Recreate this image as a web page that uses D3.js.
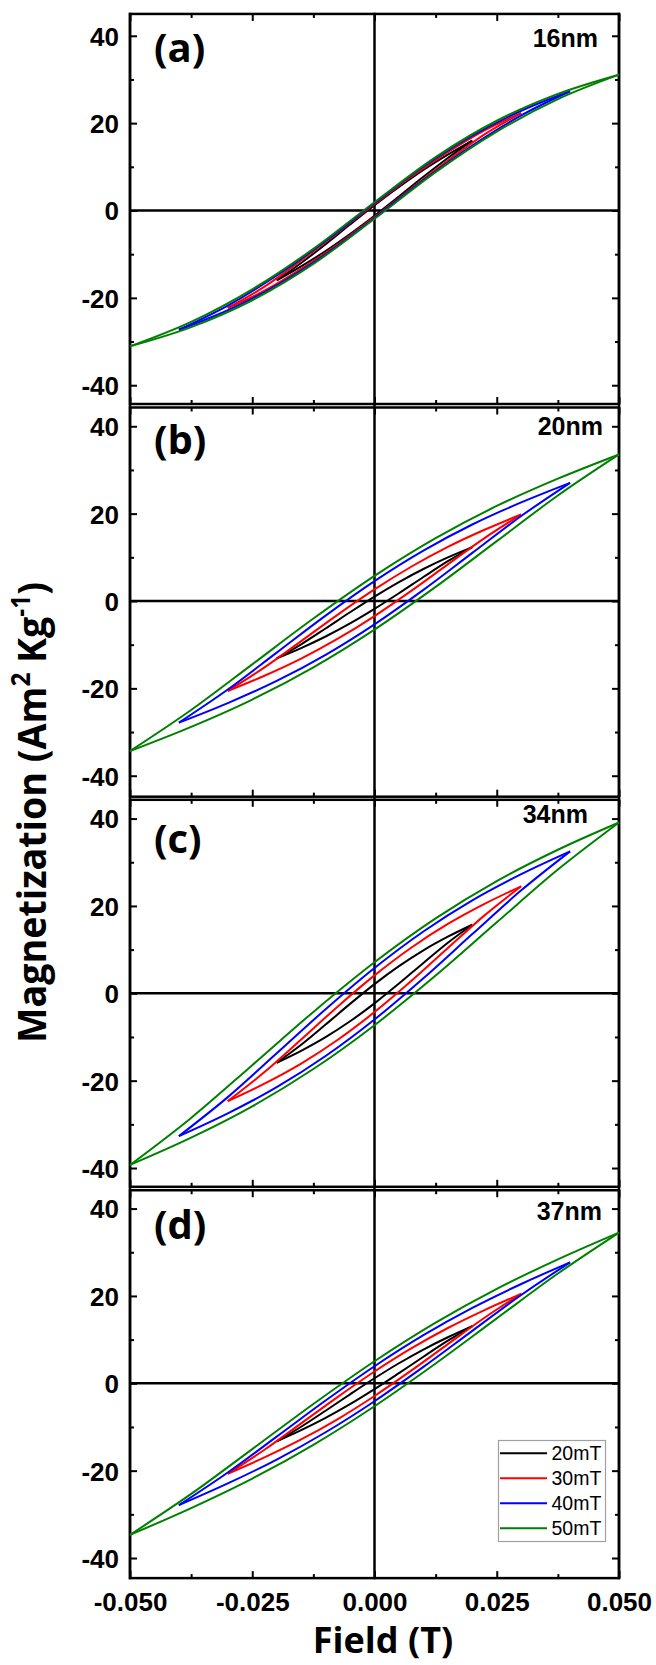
<!DOCTYPE html>
<html>
<head>
<meta charset="utf-8">
<script src="https://cdn.jsdelivr.net/npm/d3@7"></script>
<style>
  html, body { margin: 0; padding: 0; background: #fff; }
  svg { display: block; }
</style>
</head>
<body>
<script>
// ---------------- DATA ----------------
const loopNames = ["20mT", "30mT", "40mT", "50mT"];
const panelLetters = ["(a)", "(b)", "(c)", "(d)"];
const panelSizes = ["16nm", "20nm", "34nm", "37nm"];

const xTickValues = [-0.05, -0.025, 0, 0.025, 0.05];
const xTickLabels = ["-0.050", "-0.025", "0.000", "0.025", "0.050"];
const xMinorTicks = [-0.0375, -0.0125, 0.0125, 0.0375];
const yTickValues = [-40, -20, 0, 20, 40];
const yTickLabels = ["-40", "-20", "0", "20", "40"];
const yMinorTicks = [-30, -10, 10, 30];

// field values (T) for the points of each loop (20, 30, 40, 50 mT)
const field20 = [-0.02, -0.015, -0.01, -0.005, 0, 0.005, 0.01, 0.015, 0.02];
const field30 = [-0.03, -0.0225, -0.015, -0.0075, 0, 0.0075, 0.015, 0.0225, 0.03];
const field40 = [-0.04, -0.03, -0.02, -0.01, 0, 0.01, 0.02, 0.03, 0.04];
const field50 = [-0.05, -0.0375, -0.025, -0.0125, 0, 0.0125, 0.025, 0.0375, 0.05];

// (a) 16nm  — descending (upper) and ascending (lower) branches
const a16Upper = [
  [-16.0, -12.02, -7.71, -3.21, 1.2, 5.39, 9.29, 12.78, 16.0],
  [-22.3, -17.43, -11.42, -5.04, 1.5, 7.76, 13.38, 18.37, 22.3],
  [-27.3, -21.77, -14.89, -6.96, 1.7, 10.04, 17.12, 22.83, 27.3],
  [-31.1, -25.5, -18.05, -8.78, 1.9, 12.23, 20.55, 26.7, 31.1]];
const a16Lower = [
  [-16.0, -12.78, -9.29, -5.39, -1.2, 3.21, 7.71, 12.02, 16.0],
  [-22.3, -18.37, -13.38, -7.76, -1.5, 5.04, 11.42, 17.43, 22.3],
  [-27.3, -22.83, -17.12, -10.04, -1.7, 6.96, 14.89, 21.77, 27.3],
  [-31.1, -26.7, -20.55, -12.23, -1.9, 8.78, 18.05, 25.5, 31.1]];

// (b) 20nm
const b20Upper = [
  [-13.15, -9.91, -6.29, -2.58, 1.0, 4.33, 7.33, 9.99, 12.35],
  [-20.6, -15.2, -9.19, -3.11, 2.65, 7.84, 12.39, 16.31, 19.8],
  [-27.85, -20.26, -11.81, -3.34, 4.55, 11.53, 17.51, 22.57, 27.05],
  [-34.35, -24.95, -14.5, -4.02, 5.75, 14.38, 21.76, 28.01, 33.55]];
const b20Lower = [
  [-13.15, -10.79, -8.13, -5.13, -1.8, 1.78, 5.49, 9.11, 12.35],
  [-20.6, -17.11, -13.19, -8.64, -3.45, 2.31, 8.39, 14.4, 19.8],
  [-27.85, -23.37, -18.31, -12.33, -5.35, 2.54, 11.01, 19.46, 27.05],
  [-34.35, -28.81, -22.56, -15.18, -6.55, 3.22, 13.7, 24.15, 33.55]];

// (c) 34nm
const c34Upper = [
  [-15.9, -11.78, -7.15, -2.42, 2.1, 6.21, 9.84, 12.96, 15.7],
  [-24.7, -18.04, -10.57, -3.0, 4.1, 10.43, 15.88, 20.48, 24.5],
  [-32.7, -23.77, -13.75, -3.64, 5.8, 14.16, 21.29, 27.28, 32.5],
  [-39.3, -28.53, -16.45, -4.26, 7.1, 17.14, 25.69, 32.86, 39.1]];
const c34Lower = [
  [-15.9, -13.16, -10.04, -6.41, -2.3, 2.22, 6.95, 11.58, 15.7],
  [-24.7, -20.68, -16.08, -10.63, -4.3, 2.8, 10.37, 17.84, 24.5],
  [-32.7, -27.48, -21.49, -14.36, -6.0, 3.44, 13.55, 23.57, 32.5],
  [-39.3, -33.06, -25.89, -17.34, -7.3, 4.06, 16.25, 28.33, 39.1]];

// (d) 37nm
const d37Upper = [
  [-13.3, -9.95, -6.28, -2.52, 1.15, 4.59, 7.72, 10.54, 13.1],
  [-20.7, -15.21, -9.18, -3.1, 2.7, 7.98, 12.66, 16.77, 20.5],
  [-27.9, -20.42, -12.21, -3.95, 3.9, 11.01, 17.26, 22.73, 27.7],
  [-34.7, -25.33, -15.06, -4.73, 5.05, 13.88, 21.62, 28.37, 34.5]];
const d37Lower = [
  [-13.3, -10.74, -7.92, -4.79, -1.35, 2.32, 6.08, 9.75, 13.1],
  [-20.7, -16.97, -12.86, -8.18, -2.9, 2.9, 8.98, 15.01, 20.5],
  [-27.9, -22.93, -17.46, -11.21, -4.1, 3.75, 12.01, 20.22, 27.7],
  [-34.7, -28.57, -21.82, -14.08, -5.25, 4.53, 14.86, 25.13, 34.5]];

// ---------------- LAYOUT / STYLE ----------------
const W = 656, H = 1665;
const loopColors = ["#000000", "#ff0000", "#0000ff", "#008000"];
const fields = [field20, field30, field40, field50];
const panelsUpper = [a16Upper, b20Upper, c34Upper, d37Upper];
const panelsLower = [a16Lower, b20Lower, c34Lower, d37Lower];
const panelZeroY = [210.5, 601, 993.3, 1383.3];
const pxPerUnit = 4.368;
const panelDomains = [[-44.3, 45], [-44.8, 44.3], [-44.3, 44.3], [-44.6, 44.2]];
const sizeLabelPos = [[598, 47], [603, 435], [588, 823], [602, 1220]];
const letterBaseline = [62, 454, 853, 1239];

const tickFont = "'Liberation Sans', Arial, sans-serif";
const titleFont = "'Open Sans', sans-serif";

const svg = d3.select("body").append("svg")
  .attr("width", W).attr("height", H)
  .attr("viewBox", `0 0 ${W} ${H}`);
svg.append("rect").attr("width", W).attr("height", H).attr("fill", "#fff");

const x = d3.scaleLinear().domain([-0.05, 0.05]).range([130, 619]);

const yScales = panelDomains.map((dom, i) =>
  d3.scaleLinear().domain(dom)
    .range([panelZeroY[i] - dom[0] * pxPerUnit, panelZeroY[i] - dom[1] * pxPerUnit]));

const firstTop = yScales[0].range()[1];
const lastBottom = yScales[3].range()[0];

function styleAxis(g) {
  g.select(".domain").remove();
  g.selectAll(".tick line").attr("stroke", "#000").attr("stroke-width", 2);
  g.selectAll(".tick text")
    .attr("fill", "#000")
    .attr("font-family", tickFont)
    .attr("font-weight", "bold")
    .attr("font-size", 26);
}

panelDomains.forEach((dom, i) => {
  const y = yScales[i];
  const top = y.range()[1], bottom = y.range()[0];
  const g = svg.append("g");

  // zero line (horizontal)
  g.append("line")
    .attr("x1", x.range()[0]).attr("x2", x.range()[1])
    .attr("y1", y(0)).attr("y2", y(0))
    .attr("stroke", "#000").attr("stroke-width", 2.5);

  // axes: left (labels), right, top, bottom
  const left = g.append("g").attr("transform", `translate(${x.range()[0]},0)`)
    .call(d3.axisLeft(y).tickValues(yTickValues).tickSize(-7).tickPadding(11)
      .tickFormat((d, k) => yTickLabels[k]));
  styleAxis(left);
  left.selectAll(".tick text").attr("dy", "0.36em");
  const leftMinor = g.append("g").attr("transform", `translate(${x.range()[0]},0)`)
    .call(d3.axisLeft(y).tickValues(yMinorTicks).tickSize(-4).tickFormat(""));
  styleAxis(leftMinor);

  const right = g.append("g").attr("transform", `translate(${x.range()[1]},0)`)
    .call(d3.axisRight(y).tickValues(yTickValues).tickSize(-7).tickFormat(""));
  styleAxis(right);
  const rightMinor = g.append("g").attr("transform", `translate(${x.range()[1]},0)`)
    .call(d3.axisRight(y).tickValues(yMinorTicks).tickSize(-4).tickFormat(""));
  styleAxis(rightMinor);

  const topAx = g.append("g").attr("transform", `translate(0,${top})`)
    .call(d3.axisTop(x).tickValues(xTickValues).tickSize(-7).tickFormat(""));
  styleAxis(topAx);
  const topMinor = g.append("g").attr("transform", `translate(0,${top})`)
    .call(d3.axisTop(x).tickValues(xMinorTicks).tickSize(-4).tickFormat(""));
  styleAxis(topMinor);

  const botAx = g.append("g").attr("transform", `translate(0,${bottom})`)
    .call(d3.axisBottom(x).tickValues(xTickValues).tickSize(-7).tickPadding(14)
      .tickFormat((d, k) => i === 3 ? xTickLabels[k] : ""));
  styleAxis(botAx);
  botAx.selectAll(".tick text").attr("dy", "0.72em");
  const botMinor = g.append("g").attr("transform", `translate(0,${bottom})`)
    .call(d3.axisBottom(x).tickValues(xMinorTicks).tickSize(-4).tickFormat(""));
  styleAxis(botMinor);

  // frame
  g.append("rect")
    .attr("x", x.range()[0]).attr("y", top)
    .attr("width", x.range()[1] - x.range()[0]).attr("height", bottom - top)
    .attr("fill", "none").attr("stroke", "#000").attr("stroke-width", 2.5);
});

// continuous left/right edges and vertical zero line
[x.range()[0], x.range()[1], x(0)].forEach(xx => {
  svg.append("line")
    .attr("x1", xx).attr("x2", xx)
    .attr("y1", firstTop - 1.25).attr("y2", lastBottom + 1.25)
    .attr("stroke", "#000").attr("stroke-width", 2.5);
});

// curves
const line = d3.line().curve(d3.curveMonotoneX);
panelDomains.forEach((dom, i) => {
  const y = yScales[i];
  const g = svg.append("g");
  loopNames.forEach((name, j) => {
    [panelsUpper[i][j], panelsLower[i][j]].forEach(branch => {
      const pts = fields[j].map((f, k) => [x(f), y(branch[k])]);
      g.append("path")
        .attr("d", line(pts))
        .attr("fill", "none")
        .attr("stroke", loopColors[j])
        .attr("stroke-width", 2)
        .attr("stroke-linejoin", "round");
    });
  });

  // panel letter
  svg.append("text")
    .attr("x", 154).attr("y", letterBaseline[i])
    .attr("font-family", titleFont).attr("font-weight", 700).attr("font-size", 40)
    .attr("fill", "#000")
    .text(panelLetters[i]);

  // size label
  svg.append("text")
    .attr("x", sizeLabelPos[i][0]).attr("y", sizeLabelPos[i][1])
    .attr("text-anchor", "end")
    .attr("font-family", tickFont).attr("font-weight", "bold").attr("font-size", 25)
    .attr("fill", "#000")
    .text(panelSizes[i]);
});

// legend (in panel d)
const leg = svg.append("g");
leg.append("rect")
  .attr("x", 498.5).attr("y", 1440.5).attr("width", 107).attr("height", 101)
  .attr("fill", "#fff").attr("stroke", "#a0a0a0").attr("stroke-width", 1.2);
loopNames.forEach((name, j) => {
  const ly = 1453.3 + j * 25;
  leg.append("line")
    .attr("x1", 500).attr("x2", 547).attr("y1", ly).attr("y2", ly)
    .attr("stroke", loopColors[j]).attr("stroke-width", 2);
  leg.append("text")
    .attr("x", 551.5).attr("y", ly + 7)
    .attr("font-family", tickFont).attr("font-size", 19.5)
    .attr("fill", "#000")
    .text(name);
});

// x title
svg.append("text")
  .attr("x", 383).attr("y", 1653)
  .attr("text-anchor", "middle")
  .attr("font-family", titleFont).attr("font-weight", 700).attr("font-size", 36)
  .attr("fill", "#000")
  .text("Field (T)");

// y title
const yTitle = svg.append("text")
  .attr("text-anchor", "middle")
  .attr("font-family", titleFont).attr("font-weight", 700).attr("font-size", 40)
  .attr("fill", "#000");
yTitle.append("tspan").text("Magnetization (Am");
yTitle.append("tspan").attr("font-size", 26).attr("dy", -16).text("2");
yTitle.append("tspan").attr("dy", 16).text("\u00A0Kg");
yTitle.append("tspan").attr("font-size", 26).attr("dy", -16).text("-1");
yTitle.append("tspan").attr("dy", 16).text(")");
const titleLen = yTitle.node().getComputedTextLength();
const sx = titleLen > 0 ? 461 / titleLen : 1;
yTitle.attr("transform", `translate(46,812.5) rotate(-90) scale(${sx},1)`);
</script>
</body>
</html>
